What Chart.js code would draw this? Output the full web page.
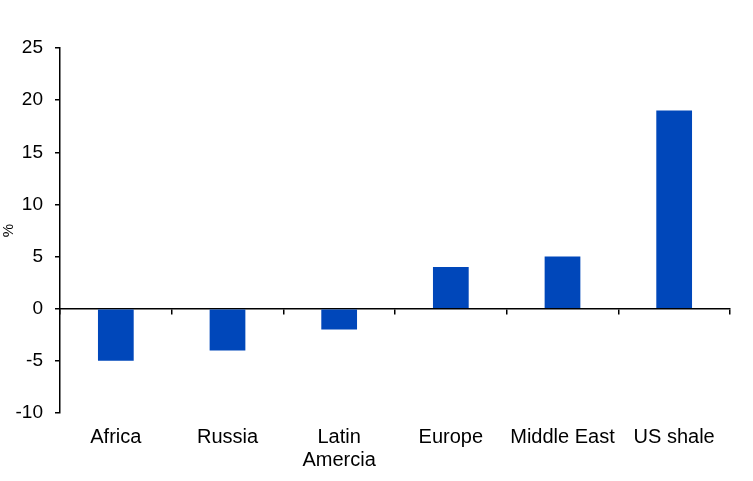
<!DOCTYPE html>
<html>
<head>
<meta charset="utf-8">
<script src="https://cdn.jsdelivr.net/npm/chart.js@4"></script>
<style>
  html, body { margin: 0; padding: 0; background: #fff; }
  #wrap { width: 753px; height: 481px; }
</style>
</head>
<body>
<div id="wrap"><canvas id="barChart"></canvas></div>
<script>
const regions = ['Africa', 'Russia', ['Latin', 'Amercia'], 'Europe', 'Middle East', 'US shale'];
const changePct = [-5, -4, -2, 4, 5, 19];
const yTicks = [-10, -5, 0, 5, 10, 15, 20, 25];

const family = '"Liberation Sans", Arial, sans-serif';

const ctx = document.getElementById('barChart').getContext('2d');
new Chart(ctx, {
    type: 'bar',
    data: {
        labels: regions,
        datasets: [{
            data: changePct,
            backgroundColor: '#0047BA',
            barPercentage: 0.32,
            categoryPercentage: 1,
            xAxisID: 'x'
        }]
    },
    options: {
        responsive: true,
        maintainAspectRatio: false,
        animation: false,
        layout: { padding: { top: 48, right: 23, left: 0, bottom: 0 } },
        plugins: { legend: { display: false }, tooltip: { enabled: false } },
        scales: {
            x: {
                position: 'bottom',
                afterFit: (scale) => { scale.height = 68; },
                border: { display: false },
                grid: { display: false },
                ticks: { color: '#000', font: { family: family, size: 20, lineHeight: 1.15 }, padding: 5, maxRotation: 0 }
            },
            // second category axis sitting on zero, gives the baseline and its tick marks
            zero: {
                type: 'category',
                axis: 'x',
                labels: regions,
                position: { y: 0 },
                offset: true,
                afterFit: (scale) => { scale.height = 0; },
                border: { display: true, color: '#000', width: 1.5 },
                grid: { offset: true, drawOnChartArea: false, drawTicks: true, tickLength: 5, color: '#000', lineWidth: 1.5 },
                ticks: { display: false }
            },
            y: {
                min: -10,
                max: 25,
                afterBuildTicks: (scale) => { scale.ticks = yTicks.map(v => ({ value: v })); },
                afterFit: (scale) => { scale.width = 60; },
                border: { display: true, color: '#000', width: 1.5 },
                grid: { drawOnChartArea: false, drawTicks: true, tickLength: 5, color: '#000', lineWidth: 1.5 },
                ticks: { color: '#000', font: { family: family, size: 19 }, padding: 12 },
                title: { display: true, text: '%', color: '#000', font: { family: family, size: 15 }, padding: 0 }
            }
        }
    }
});
</script>
</body>
</html>
